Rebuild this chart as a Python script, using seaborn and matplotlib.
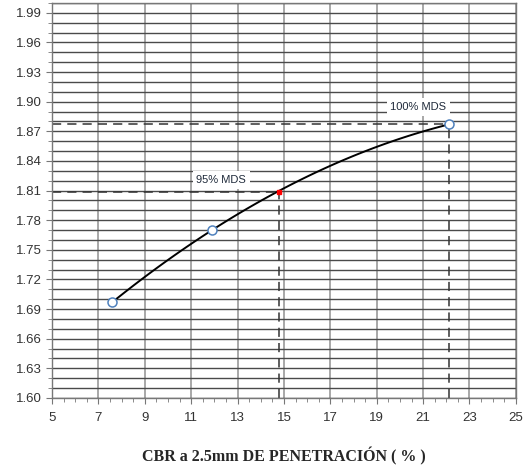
import numpy as np
import pandas as pd
import matplotlib
matplotlib.use('Agg')
import matplotlib.pyplot as plt
from matplotlib.ticker import FormatStrFormatter
import seaborn as sns

# data
cbr = [7.6, 11.9, 22.1]
density = [1.697, 1.770, 1.877]
cbr_95, dens_95 = 14.8, 1.809
cbr_100, dens_100 = 22.1, 1.877
label_95 = '95% MDS'
label_100 = '100% MDS'
x_label = 'CBR a 2.5mm DE PENETRACIÓN ( % )'
x_ticks = [5, 7, 9, 11, 13, 15, 17, 19, 21, 23, 25]
y_ticks = [1.60, 1.63, 1.66, 1.69, 1.72, 1.75, 1.78, 1.81, 1.84, 1.87, 1.90, 1.93, 1.96, 1.99]

df = pd.DataFrame({'cbr': cbr, 'density': density})

sns.set_style('ticks')
plt.rcParams['font.family'] = ['Liberation Sans', 'DejaVu Sans']

fig = plt.figure(figsize=(5.23, 4.68), dpi=100)
ax = fig.add_axes([0.0994, 0.1496, 0.887, 0.844])

ax.set_xlim(5, 25)
ax.set_ylim(1.60, 2.00)

# grid
ax.set_xticks(x_ticks)
ax.set_xticks(np.arange(5, 25.01, 0.5), minor=True)
ax.set_yticks(y_ticks)
ax.set_yticks(np.arange(1.60, 2.001, 0.01), minor=True)
ax.yaxis.set_major_formatter(FormatStrFormatter('%.2f'))
ax.grid(which='major', axis='x', color='#9a9a9a', lw=1.2)
ax.grid(which='both', axis='y', color='#4a4a4a', lw=1.0)
ax.set_axisbelow(True)

# trend curve through the points
sns.regplot(data=df, x='cbr', y='density', order=2, ci=None, scatter=False,
            line_kws={'color': 'black', 'lw': 1.4}, ax=ax)
sns.scatterplot(data=df, x='cbr', y='density', ax=ax, s=42,
                facecolor='white', edgecolor='#4F81BD', linewidth=1.1, zorder=5)
ax.plot([cbr_95], [dens_95], marker='s', ms=2.5, color='red', zorder=6)

# reference dashed lines
ax.plot([5, cbr_100], [dens_100, dens_100], ls=(0, (6, 4)), color='#333333', lw=1.1)
ax.plot([cbr_100, cbr_100], [1.60, dens_100], ls=(0, (6, 4)), color='#333333', lw=1.1)
ax.plot([5, cbr_95], [dens_95, dens_95], ls=(0, (6, 4)), color='#333333', lw=1.1)
ax.plot([cbr_95, cbr_95], [1.60, dens_95], ls=(0, (6, 4)), color='#333333', lw=1.1)

box = dict(boxstyle='square,pad=0.35', fc='white', ec='none')
ax.text(12.3, 1.821, label_95, ha='center', va='center', fontsize=8, color='#1f2a3a',
        bbox=box, zorder=7)
ax.text(20.8, 1.895, label_100, ha='center', va='center', fontsize=8, color='#1f2a3a',
        bbox=box, zorder=7)

ax.tick_params(axis='both', which='major', labelsize=9.5, labelcolor='#333333',
               direction='out', length=4, color='#777777', bottom=True, left=True)
ax.tick_params(axis='both', which='minor', direction='out', length=3,
               color='#777777', bottom=True, left=True)
ax.tick_params(axis='x', pad=6)
for s in ax.spines.values():
    s.set_visible(True)
    s.set_color('#777777')
    s.set_linewidth(1.0)

ax.set_xlabel(x_label, fontsize=11.5, fontweight='bold', family='Liberation Serif', labelpad=17)
ax.set_ylabel('')

fig.savefig('out.png', dpi=100)
